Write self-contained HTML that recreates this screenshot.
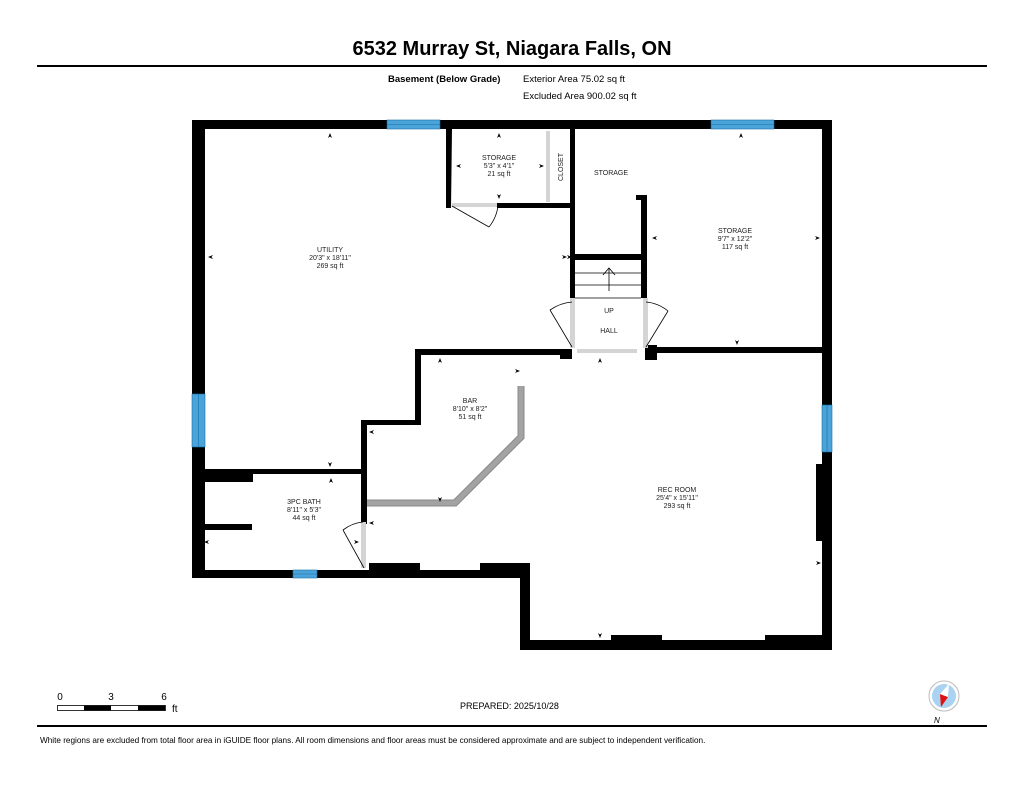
<!DOCTYPE html>
<html><head><meta charset="utf-8"><style>
html,body{margin:0;padding:0;background:#fff;}
svg{display:block;font-family:"Liberation Sans",Arial,sans-serif;}
.r{font-size:7px;fill:#222;text-anchor:middle;}
</style></head><body>
<svg width="1024" height="791" viewBox="0 0 1024 791" xmlns="http://www.w3.org/2000/svg">
<rect width="1024" height="791" fill="#fff"/>
<text x="512" y="55" font-size="20" font-weight="bold" text-anchor="middle" fill="#000">6532 Murray St, Niagara Falls, ON</text>
<rect x="37" y="65" width="950" height="2" fill="#000"/>
<text x="388" y="82" font-size="9.5" font-weight="bold" fill="#000">Basement (Below Grade)</text>
<text x="523" y="82" font-size="9.5" fill="#000">Exterior Area 75.02 sq ft</text>
<text x="523" y="99" font-size="9.5" fill="#000">Excluded Area 900.02 sq ft</text>

<g fill="#000">
<!-- outer top -->
<rect x="192" y="120" width="640" height="9"/>
<rect x="192" y="120" width="13" height="458"/>
<rect x="822" y="120" width="10" height="530"/>
<rect x="816" y="464" width="8" height="77"/>
<rect x="520" y="640" width="312" height="10"/>
<rect x="611" y="635" width="51" height="6"/>
<rect x="765" y="635" width="58" height="6"/>
<rect x="520" y="563" width="10" height="87"/>
<rect x="480" y="563" width="50" height="15"/>
<rect x="192" y="570" width="338" height="8"/>
<rect x="369" y="563" width="51" height="10"/>
<!-- bath -->
<rect x="205" y="469" width="160" height="5"/>
<rect x="205" y="469" width="48" height="13"/>
<rect x="205" y="524" width="47" height="6"/>
<rect x="361" y="420" width="6" height="104"/>
<!-- bar -->
<rect x="361" y="420" width="60" height="5"/>
<rect x="415" y="349" width="6" height="76"/>
<rect x="415" y="349" width="157" height="6"/>
<rect x="560" y="349" width="12" height="10"/>
<rect x="645" y="345" width="12" height="15"/>
<rect x="645" y="347" width="177" height="6"/>
<!-- small storage -->
<polygon points="446,129 452,129 451,208 446,208"/>
<rect x="497" y="203" width="75" height="5"/>
<rect x="570" y="129" width="5" height="170"/>
<rect x="572" y="254" width="75" height="6"/>
<rect x="641" y="195" width="6" height="103"/>
<rect x="636" y="195" width="11" height="5"/>
</g>
<!-- windows -->
<g fill="#4aa3d9" stroke="#1a6fa8" stroke-width="0.6">
<rect x="387" y="120" width="53" height="9"/>
<rect x="711" y="120" width="63" height="9"/>
<rect x="192" y="394" width="13" height="53"/>
<rect x="822" y="405" width="10" height="47"/>
<rect x="293" y="570" width="24" height="8"/>
</g>
<g stroke="#1a6fa8" stroke-width="0.6">
<line x1="387" y1="124.5" x2="440" y2="124.5"/><line x1="711" y1="124.5" x2="774" y2="124.5"/>
<line x1="198.5" y1="394" x2="198.5" y2="447"/><line x1="827" y1="405" x2="827" y2="452"/>
<line x1="293" y1="574" x2="317" y2="574"/>
</g>
<!-- gray doors -->
<g fill="#d4d4d4">
<rect x="452" y="203" width="45" height="4"/>
<rect x="546" y="131" width="4" height="71"/>
<rect x="577" y="349" width="60" height="4"/>
<rect x="570" y="298" width="5" height="50"/>
<rect x="643" y="298" width="5" height="50"/>
<rect x="361" y="522" width="5" height="46"/>
</g>
<!-- bar counter -->
<polyline points="367,503 455,503 521,437 521,386" fill="none" stroke="#888" stroke-width="7"/>
<polyline points="367,503 455,503 521,437 521,386" fill="none" stroke="#a3a3a3" stroke-width="5"/>
<!-- stairs -->
<g stroke="#000" stroke-width="0.8" fill="none">
<line x1="575" y1="273" x2="641" y2="273"/><line x1="575" y1="285" x2="641" y2="285"/><line x1="575" y1="298" x2="641" y2="298"/>
<line x1="609" y1="291" x2="609" y2="268"/><polyline points="603,275 609,268 615,275"/>
<!-- door swings -->
<line x1="452" y1="206" x2="489" y2="227"/><path d="M489,227 Q497,217 498,205"/>
<line x1="572" y1="347" x2="550" y2="310"/><path d="M550,310 Q560,303 572,302"/>
<line x1="646" y1="347" x2="668" y2="311"/><path d="M668,311 Q658,303 646,302"/>
<line x1="364" y1="568" x2="343" y2="530"/><path d="M343,530 Q352,523 363,522"/>
</g>
<!-- labels -->
<text class="r" x="330" y="252">UTILITY</text><text class="r" x="330" y="260">20'3" x 18'11"</text><text class="r" x="330" y="268">269 sq ft</text>
<text class="r" x="499" y="160">STORAGE</text><text class="r" x="499" y="168">5'3" x 4'1"</text><text class="r" x="499" y="176">21 sq ft</text>
<text class="r" transform="translate(563,167) rotate(-90)">CLOSET</text>
<text class="r" x="611" y="175">STORAGE</text>
<text class="r" x="735" y="233">STORAGE</text><text class="r" x="735" y="241">9'7" x 12'2"</text><text class="r" x="735" y="249">117 sq ft</text>
<text class="r" x="609" y="313">UP</text><text class="r" x="609" y="333">HALL</text>
<text class="r" x="470" y="403">BAR</text><text class="r" x="470" y="411">8'10" x 8'2"</text><text class="r" x="470" y="419">51 sq ft</text>
<text class="r" x="304" y="504">3PC BATH</text><text class="r" x="304" y="512">8'11" x 5'3"</text><text class="r" x="304" y="520">44 sq ft</text>
<text class="r" x="677" y="492">REC ROOM</text><text class="r" x="677" y="500">25'4" x 15'11"</text><text class="r" x="677" y="508">293 sq ft</text>
<!-- small dimension arrows -->
<g fill="#000">
<path d="M330,133 l-2,5 l2,-1.5 l2,1.5z"/><path d="M499,133 l-2,5 l2,-1.5 l2,1.5z"/><path d="M741,133 l-2,5 l2,-1.5 l2,1.5z"/>
<path d="M330,467 l-2,-5 l2,1.5 l2,-1.5z"/><path d="M499,199 l-2,-5 l2,1.5 l2,-1.5z"/><path d="M737,345 l-2,-5 l2,1.5 l2,-1.5z"/>
<path d="M208,257 l5,-2 l-1.5,2 l1.5,2z"/><path d="M567,257 l-5,-2 l1.5,2 l-1.5,2z"/>
<path d="M456,166 l5,-2 l-1.5,2 l1.5,2z"/><path d="M544,166 l-5,-2 l1.5,2 l-1.5,2z"/>
<path d="M652,238 l5,-2 l-1.5,2 l1.5,2z"/><path d="M820,238 l-5,-2 l1.5,2 l-1.5,2z"/>
<path d="M572,257 l-5,-2 l1.5,2 l-1.5,2z"/>
<path d="M440,358 l-2,5 l2,-1.5 l2,1.5z"/><path d="M600,358 l-2,5 l2,-1.5 l2,1.5z"/><path d="M331,478 l-2,5 l2,-1.5 l2,1.5z"/>
<path d="M520,371 l-5,-2 l1.5,2 l-1.5,2z"/><path d="M369,432 l5,-2 l-1.5,2 l1.5,2z"/>
<path d="M440,502 l-2,-5 l2,1.5 l2,-1.5z"/><path d="M600,638 l-2,-5 l2,1.5 l2,-1.5z"/>
<path d="M369,523 l5,-2 l-1.5,2 l1.5,2z"/><path d="M359,542 l-5,-2 l1.5,2 l-1.5,2z"/>
<path d="M204,542 l5,-2 l-1.5,2 l1.5,2z"/><path d="M821,563 l-5,-2 l1.5,2 l-1.5,2z"/>
</g>
<!-- scale -->
<text x="60" y="700" font-size="10" text-anchor="middle">0</text>
<text x="111" y="700" font-size="10" text-anchor="middle">3</text>
<text x="164" y="700" font-size="10" text-anchor="middle">6</text>
<rect x="57.5" y="705.5" width="108" height="5" fill="#fff" stroke="#000" stroke-width="0.8"/>
<rect x="84" y="705.5" width="27" height="5" fill="#000"/><rect x="138" y="705.5" width="27" height="5" fill="#000"/>
<text x="172" y="712" font-size="10">ft</text>
<text x="460" y="709" font-size="9">PREPARED: 2025/10/28</text>
<!-- compass -->
<circle cx="944" cy="696" r="15" fill="#fff" stroke="#bbb" stroke-width="1"/>
<circle cx="944" cy="696" r="12" fill="#a9d3f0"/>
<polygon points="941,707 940,694 948,697" fill="#e01010"/>
<polygon points="940,694 948,697 949,684" fill="#fff"/>
<text x="934" y="723" font-size="8" font-style="italic">N</text>
<rect x="37" y="725" width="950" height="2" fill="#000"/>
<text x="40" y="743" font-size="8.2" fill="#000">White regions are excluded from total floor area in iGUIDE floor plans. All room dimensions and floor areas must be considered approximate and are subject to independent verification.</text>
</svg>
</body></html>
